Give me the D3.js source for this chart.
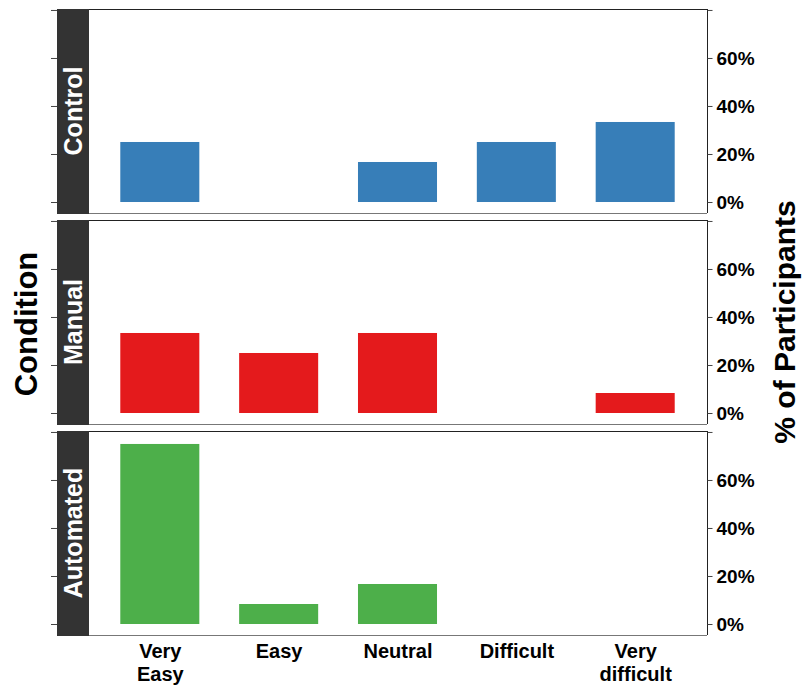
<!DOCTYPE html>
<html>
<head>
<meta charset="utf-8">
<script src="https://cdn.jsdelivr.net/npm/d3@7"></script>
<style>
  html, body { margin: 0; padding: 0; background: #fff; }
  svg { display: block; font-family: "Liberation Sans", Arial, sans-serif; }
</style>
</head>
<body>
<svg id="chart" width="802" height="687"></svg>
<script>
// Difficulty ratings per condition (share of participants)
const categories = ["Very Easy", "Easy", "Neutral", "Difficult", "Very difficult"];
const categoryLines = [["Very", "Easy"], ["Easy"], ["Neutral"], ["Difficult"], ["Very", "difficult"]];
const conditions = ["Control", "Manual", "Automated"];
const controlValues = [3/12, 0, 2/12, 3/12, 4/12];
const manualValues = [4/12, 3/12, 4/12, 0, 1/12];
const automatedValues = [9/12, 1/12, 2/12, 0, 0];
const conditionColors = ["#377EB8", "#E41A1C", "#4DAF4A"];
const yTicks = [0, 0.2, 0.4, 0.6, 0.8];
const yTickLabels = ["0%", "20%", "40%", "60%", ""];

const seriesByCondition = [controlValues, manualValues, automatedValues];

const svg = d3.select("#chart");

const panelLeft = 57, stripWidth = 32, panelRight = 707;
const dataLeft = panelLeft + stripWidth;
const panelTops = [9, 220, 431];
const panelHeight = 204;

const x = d3.scalePoint().domain(categories).range([dataLeft, panelRight]).padding(0.6);
const barWidth = x.step() * 0.665;

conditions.forEach((cond, i) => {
  const top = panelTops[i];
  const bottom = top + panelHeight;
  const y = d3.scaleLinear().domain([-0.0458, 0.804]).range([bottom, top]);
  const g = svg.append("g");

  // bars
  g.selectAll("rect.bar")
    .data(categories.map((c, j) => ({ c, v: seriesByCondition[i][j] })).filter(d => d.v > 0))
    .join("rect")
    .attr("class", "bar")
    .attr("x", d => x(d.c) - barWidth / 2 - 0.5)
    .attr("width", barWidth)
    .attr("y", d => y(d.v))
    .attr("height", d => y(0) - y(d.v))
    .attr("fill", conditionColors[i]);

  // panel frame: top, bottom and right edges
  g.append("line").attr("x1", panelLeft).attr("x2", panelRight)
    .attr("y1", top + 0.5).attr("y2", top + 0.5).attr("stroke", "#222");
  g.append("line").attr("x1", dataLeft).attr("x2", panelRight)
    .attr("y1", bottom + 0.5).attr("y2", bottom + 0.5).attr("stroke", "#777");

  // right axis with labels
  const right = d3.axisRight(y).tickValues(yTicks).tickSize(5).tickPadding(4)
    .tickFormat((d, k) => yTickLabels[k]);
  const ra = g.append("g").attr("transform", `translate(${panelRight + 0.5},0)`).call(right);
  ra.select(".domain").attr("d", `M0,${top}V${bottom}`).attr("stroke", "#222");
  ra.selectAll(".tick line").attr("stroke", "#444");
  ra.selectAll(".tick text")
    .attr("font-size", 19).attr("font-weight", "bold").attr("fill", "#000")
    .attr("font-family", "'Liberation Sans', Arial, sans-serif");

  // left tick marks without labels
  const left = d3.axisLeft(y).tickValues(yTicks).tickSize(6).tickFormat("");
  const la = g.append("g").attr("transform", `translate(${panelLeft},0)`).call(left);
  la.select(".domain").remove();
  la.selectAll(".tick line").attr("stroke", "#444");

  // strip
  g.append("rect").attr("x", panelLeft).attr("y", top)
    .attr("width", stripWidth).attr("height", panelHeight + 1)
    .attr("fill", "#333333");
  g.append("text")
    .attr("transform", `translate(${panelLeft + stripWidth / 2},${top + panelHeight / 2}) rotate(-90)`)
    .attr("text-anchor", "middle").attr("dy", "0.36em")
    .attr("fill", "#fff").attr("font-size", 25).attr("font-weight", "bold")
    .text(cond);
});

// category labels under the last panel
const xLab = svg.append("g");
categories.forEach((c, j) => {
  const t = xLab.append("text")
    .attr("x", x(c)).attr("y", 658)
    .attr("text-anchor", "middle").attr("font-size", 20).attr("font-weight", "bold").attr("fill", "#000");
  categoryLines[j].forEach((line, k) => {
    t.append("tspan").attr("x", x(c)).attr("dy", k === 0 ? 0 : 23).text(line);
  });
});

// axis titles
svg.append("text")
  .attr("transform", "translate(37,324) rotate(-90)")
  .attr("text-anchor", "middle").attr("font-size", 31).attr("font-weight", "bold")
  .text("Condition");
svg.append("text")
  .attr("transform", "translate(795,322) rotate(-90)")
  .attr("text-anchor", "middle").attr("font-size", 30).attr("font-weight", "bold")
  .text("% of Participants");
</script>
</body>
</html>
